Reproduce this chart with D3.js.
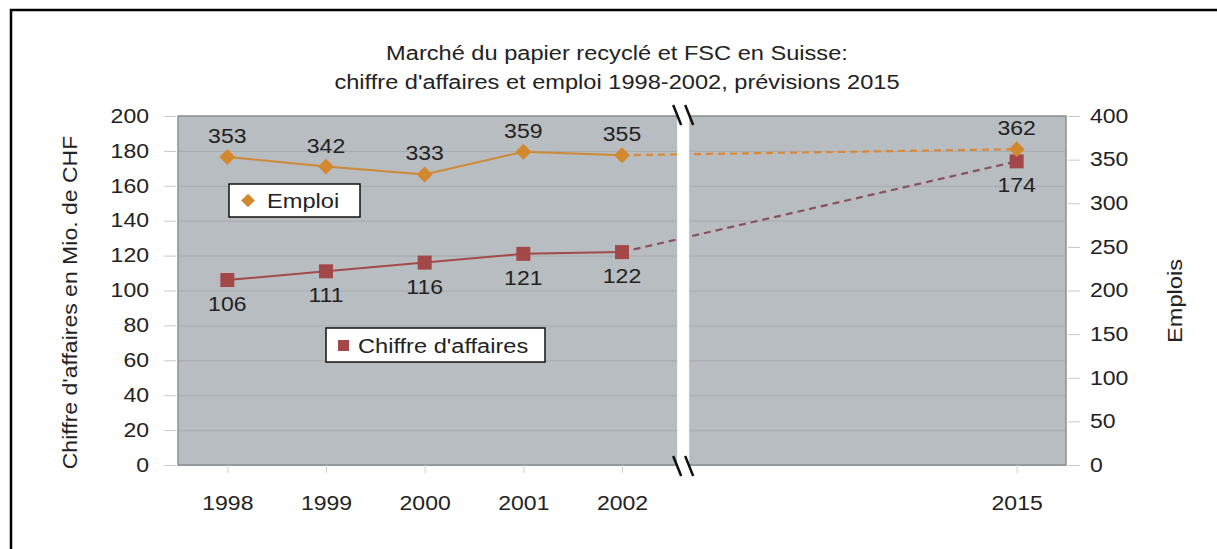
<!DOCTYPE html>
<html>
<head>
<meta charset="utf-8">
<script src="https://cdn.jsdelivr.net/npm/d3@7"></script>
<style>
  body { margin: 0; background: #fff; }
  svg text { font-family: "Liberation Sans", Arial, sans-serif; fill: #222; }
</style>
</head>
<body>
<div class="chart"></div>
<script>
var years = ['1998', '1999', '2000', '2001', '2002', '2015'];
var slots = [0, 1, 2, 3, 4, 8];
var emploi = [353, 342, 333, 359, 355, 362];
var chiffre = [106, 111, 116, 121, 122, 174];
var leftTicks = [0, 20, 40, 60, 80, 100, 120, 140, 160, 180, 200];
var rightTicks = [0, 50, 100, 150, 200, 250, 300, 350, 400];
var titleLines = ['Marché du papier recyclé et FSC en Suisse:', "chiffre d'affaires et emploi 1998-2002, prévisions 2015"];

var width = 1217, height = 549;
var margin = {top: 116, left: 178, right: 151, bottom: 84};
var plotW = width - margin.left - margin.right;
var plotH = height - margin.top - margin.bottom;
var breakSlot = 4.62;
var fs = 19.5;

var svg = d3.select('.chart').append('svg')
    .attr('width', width)
    .attr('height', height);

svg.append('rect')
    .attr('x', 11).attr('y', 10)
    .attr('width', 1230).attr('height', 600)
    .attr('fill', 'none').attr('stroke', '#000').attr('stroke-width', 2.5);

var x = d3.scaleLinear().domain([-0.5, 8.5]).range([0, plotW]);
var yL = d3.scaleLinear().domain([0, 200]).range([plotH, 0]);
var yR = d3.scaleLinear().domain([0, 400]).range([plotH, 0]);

var g = svg.append('g').attr('transform', 'translate(' + margin.left + ',' + margin.top + ')');

g.append('rect')
    .attr('width', plotW).attr('height', plotH)
    .attr('fill', '#b8bdc1');

// grid lines
g.append('g')
    .call(d3.axisLeft(yL).tickValues(leftTicks).tickSize(-plotW).tickFormat(''))
    .call(function(a) { a.select('.domain').remove() })
    .selectAll('line').attr('stroke', '#a7acb0');

g.append('rect')
    .attr('width', plotW).attr('height', plotH)
    .attr('fill', 'none').attr('stroke', '#8c9194').attr('stroke-width', 1.5);

// left axis
var left = g.append('g')
    .attr('transform', 'translate(-2,0)')
    .call(d3.axisLeft(yL).tickValues(leftTicks).tickSize(12).tickPadding(15));
left.select('.domain').remove();
left.selectAll('line').attr('stroke', '#c8c8c8');
left.selectAll('text').attr('font-size', fs);

// right axis
var right = g.append('g')
    .attr('transform', 'translate(' + (plotW + 2) + ',0)')
    .call(d3.axisRight(yR).tickValues(rightTicks).tickSize(12).tickPadding(10));
right.select('.domain').remove();
right.selectAll('line').attr('stroke', '#c8c8c8');
right.selectAll('text').attr('font-size', fs);

// x axis
var bottom = g.append('g')
    .attr('transform', 'translate(0,' + plotH + ')')
    .call(d3.axisBottom(x).tickValues(slots).tickSize(8).tickPadding(23)
        .tickFormat(function(d) { return years[slots.indexOf(d)] }));
bottom.select('.domain').remove();
bottom.selectAll('line').attr('stroke', '#d0d0d0');
bottom.selectAll('text').attr('font-size', fs);

// lines
var lineL = d3.line().x(function(d) { return x(d.s) }).y(function(d) { return yL(d.v) });
var lineR = d3.line().x(function(d) { return x(d.s) }).y(function(d) { return yR(d.v) });
var emp = years.map(function(y, i) { return {s: slots[i], v: emploi[i]} });
var chf = years.map(function(y, i) { return {s: slots[i], v: chiffre[i]} });

g.append('path').datum(emp.slice(0, 5)).attr('d', lineR)
    .attr('fill', 'none').attr('stroke', '#cf8a35').attr('stroke-width', 2);
g.append('path').datum(emp.slice(4)).attr('d', lineR)
    .attr('fill', 'none').attr('stroke', '#d9893a').attr('stroke-width', 2.2).attr('stroke-dasharray', '7,5');
g.append('path').datum(chf.slice(0, 5)).attr('d', lineL)
    .attr('fill', 'none').attr('stroke', '#a34a4a').attr('stroke-width', 2);
g.append('path').datum(chf.slice(4)).attr('d', lineL)
    .attr('fill', 'none').attr('stroke', '#8a5060').attr('stroke-width', 2.2).attr('stroke-dasharray', '7,5');

// markers
g.selectAll('.sq').data(chf).enter().append('rect')
    .attr('x', function(d) { return x(d.s) - 7 })
    .attr('y', function(d) { return yL(d.v) - 7 })
    .attr('width', 14).attr('height', 14)
    .attr('fill', '#a34848');
g.selectAll('.dm').data(emp).enter().append('path')
    .attr('d', d3.symbol().type(d3.symbolDiamond2).size(160))
    .attr('transform', function(d) { return 'translate(' + x(d.s) + ',' + yR(d.v) + ')' })
    .attr('fill', '#d4882e');

// value labels
g.selectAll('.le').data(emp).enter().append('text')
    .attr('x', function(d) { return x(d.s) })
    .attr('y', function(d) { return yR(d.v) - 14 })
    .attr('text-anchor', 'middle').attr('font-size', fs)
    .text(function(d) { return d.v });
g.selectAll('.lc').data(chf).enter().append('text')
    .attr('x', function(d) { return x(d.s) })
    .attr('y', function(d) { return yL(d.v) + 31 })
    .attr('text-anchor', 'middle').attr('font-size', fs)
    .text(function(d) { return d.v });

// axis break
var bx = x(breakSlot);
g.append('rect').attr('x', bx - 6).attr('y', -1).attr('width', 12).attr('height', plotH + 2).attr('fill', '#fff');
[-1, plotH + 1].forEach(function(yy) {
    [-6, 6].forEach(function(dx) {
        g.append('line')
            .attr('x1', bx + dx - 4).attr('y1', yy - 10)
            .attr('x2', bx + dx + 4).attr('y2', yy + 10)
            .attr('stroke', '#111').attr('stroke-width', 2.5);
    });
});

// legends
var leg1 = g.append('g').attr('transform', 'translate(' + (229 - margin.left) + ',' + (184 - margin.top) + ')');
leg1.append('rect').attr('width', 131).attr('height', 33).attr('fill', '#fff').attr('stroke', '#111').attr('stroke-width', 1.5);
leg1.append('path').attr('d', d3.symbol().type(d3.symbolDiamond2).size(120)).attr('transform', 'translate(19,16.5)').attr('fill', '#d4882e');
leg1.append('text').attr('x', 38).attr('y', 24).attr('font-size', 20).text('Emploi');

var leg2 = g.append('g').attr('transform', 'translate(' + (326 - margin.left) + ',' + (328 - margin.top) + ')');
leg2.append('rect').attr('width', 219).attr('height', 34).attr('fill', '#fff').attr('stroke', '#111').attr('stroke-width', 1.5);
leg2.append('rect').attr('x', 12).attr('y', 12).attr('width', 11).attr('height', 11).attr('fill', '#a34848');
leg2.append('text').attr('x', 32).attr('y', 25).attr('font-size', 20).text("Chiffre d'affaires");

// titles
svg.selectAll('.title').data(titleLines).enter().append('text')
    .attr('x', 617).attr('y', function(d, i) { return 60 + i * 29 })
    .attr('text-anchor', 'middle').attr('font-size', 20)
    .text(function(d) { return d });

svg.append('text')
    .attr('transform', 'translate(77,' + (margin.top + plotH / 2 + 12) + ') rotate(-90)')
    .attr('text-anchor', 'middle').attr('font-size', fs)
    .text("Chiffre d'affaires en Mio. de CHF");
svg.append('text')
    .attr('transform', 'translate(1182,' + 301 + ') rotate(-90)')
    .attr('text-anchor', 'middle').attr('font-size', 20)
    .text('Emplois');

// the source font is wider than Arial: stretch every label a bit
svg.selectAll('text').each(function() {
    var w = this.getComputedTextLength();
    d3.select(this).attr('textLength', w * 1.18).attr('lengthAdjust', 'spacingAndGlyphs');
});
</script>
</body>
</html>
